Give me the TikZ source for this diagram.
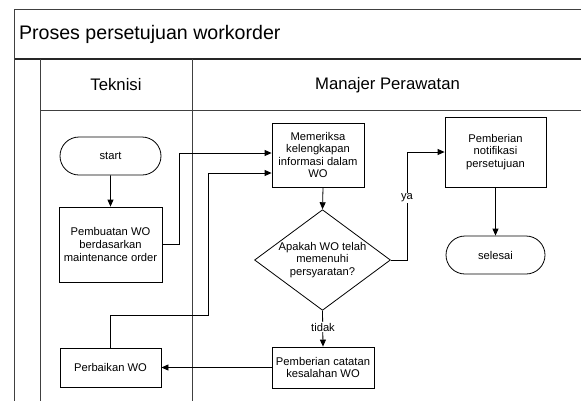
\documentclass[tikz,border=0pt]{standalone}
\usepackage{fontspec}
\setmainfont{Liberation Sans}
\usetikzlibrary{arrows.meta,shapes.geometric,shapes.misc}
\begin{document}
\begin{tikzpicture}[x=1pt,y=-1pt,
  lane/.style={draw=black!75,line width=0.9pt},
  laneheavy/.style={draw=black!85,line width=1.6pt},
  proc/.style={draw=black,line width=0.8pt,fill=white,rectangle,align=center,
    font=\fontsize{11.2}{12.6}\selectfont,inner sep=1pt},
  term/.style={proc,rounded rectangle},
  decision/.style={proc,diamond,aspect=1.35,inner sep=0pt},
  flow/.style={draw=black,line width=0.8pt,-{Triangle[length=7pt,width=6pt]}},
  wire/.style={draw=black,line width=0.8pt},
  tag/.style={fill=white,inner sep=1pt,font=\fontsize{11.2}{12.6}\selectfont},
  head/.style={font=\fontsize{16.7}{18}\selectfont}]
\useasboundingbox (0,0) rectangle (581,400);

% swimlane frame
\draw[lane] (14.5,404) -- (14.5,9) -- (590,9);
\draw[laneheavy] (14.5,59) -- (590,59);
\draw[lane] (40,59) -- (40,404);
\draw[lane] (192,59) -- (192,404);
\draw[lane] (40,110) -- (590,110);
\node[anchor=west,font=\fontsize{19.6}{22}\selectfont] (title) at (15.5,34) {Proses persetujuan workorder};
\node[head] (hteknisi) at (116,85) {Teknisi};
\node[head] (hmanajer) at (387.5,85) {Manajer Perawatan};

% Teknisi lane
\node[term,minimum width=103pt,minimum height=38pt] (start) at (110.5,156) {start};
\node[proc,minimum width=103pt,minimum height=75pt] (pembuatan) at (110.5,244.5)
  {Pembuatan WO\\berdasarkan\\maintenance order};
\node[proc,minimum width=101pt,minimum height=39pt] (perbaikan) at (110.5,367.5) {Perbaikan WO};

% Manajer Perawatan lane
\node[proc,minimum width=92pt,minimum height=64pt] (memeriksa) at (318,155)
  {Memeriksa\\kelengkapan\\informasi dalam\\WO};
\node[decision,minimum width=129pt,minimum height=96pt] (cek) at (322.5,260)
  {Apakah WO telah\\memenuhi\\persyaratan?};
\node[proc,minimum width=102pt,minimum height=41pt] (catatan) at (323,367.5)
  {Pemberian catatan\\kesalahan WO};
\node[proc,minimum width=101pt,minimum height=70pt] (notifikasi) at (495.5,152)
  {Pemberian\\notifikasi\\persetujuan};
\node[term,minimum width=101pt,minimum height=38pt] (selesai) at (495.5,255) {selesai};

% routing points
\coordinate (r1) at (179,153);
\coordinate (r2) at (208,315);
\coordinate (r3) at (208,173);
\coordinate (r4) at (407,152);
\coordinate (m1) at (323,187);

% connectors
\draw[flow] (start) -- (pembuatan);
\draw[flow] (pembuatan.east) -| (r1) -- (r1 -| memeriksa.west);
\draw[flow] (perbaikan.north) |- (r2) -- (r3) -- (r3 -| memeriksa.west);
\draw[flow] (m1 |- memeriksa.south) -- (cek.north);
\draw[flow] (cek.east) -| (r4) -- (notifikasi.west);
\node[tag] (lblya) at (407,198) {ya};
\draw[flow] (cek.south) -- (catatan.north);
\node[tag] (lbltidak) at (323,327) {tidak};
\draw[flow] (notifikasi) -- (selesai);
\draw[flow] (catatan.west) -- (perbaikan.east);
\end{tikzpicture}
\end{document}
